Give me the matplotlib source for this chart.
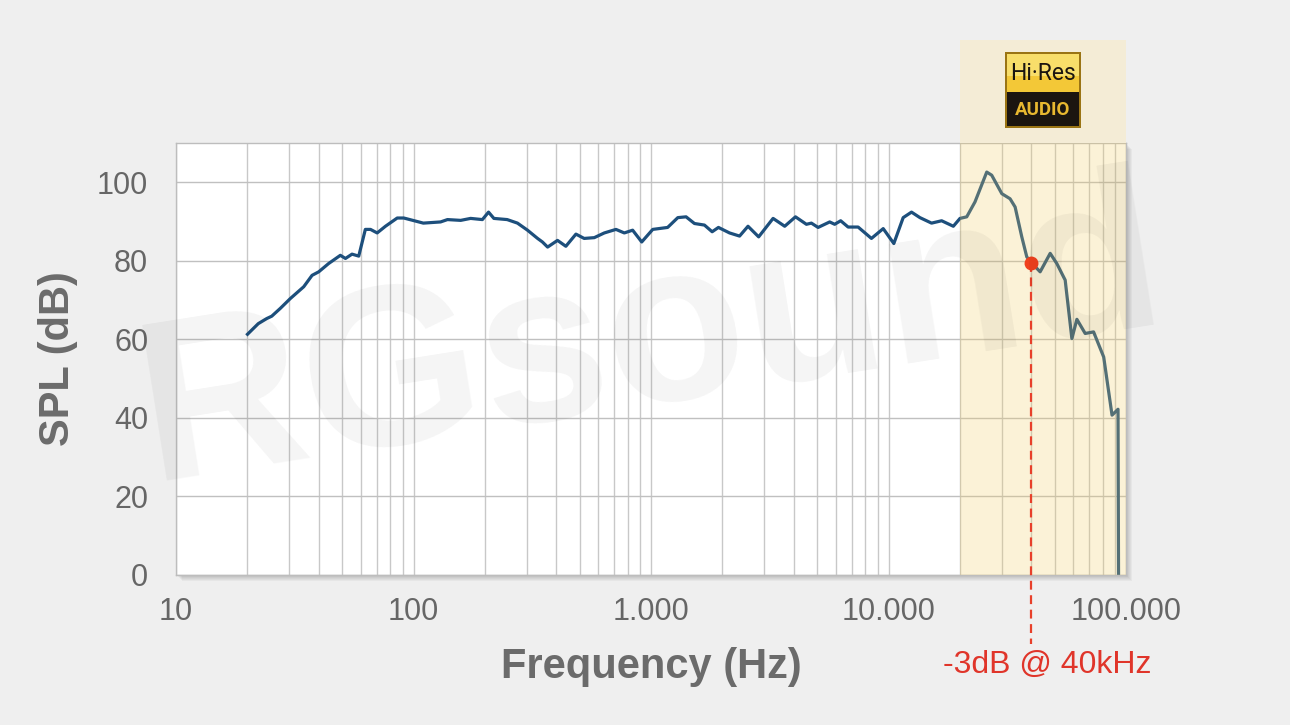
import matplotlib.pyplot as plt
from matplotlib.patches import Rectangle

# frequency response
freq_hz = [20, 22.2, 24.1, 25.3, 27.5, 30.3, 34.5, 37.4, 39.9, 43.9, 49.2, 51.7, 55.1,
           58.8, 62.7, 65.9, 70.3, 76.2, 85.4, 91, 110, 130, 139, 158, 174, 195, 207,
           218, 248, 274, 302, 333, 349, 367, 404, 438, 483, 523, 577, 636, 712, 772,
           837, 914, 1017, 1175, 1297, 1405, 1524, 1679, 1809, 1923, 2141, 2360, 2561,
           2840, 3266, 3656, 4058, 4512, 4735, 5053, 5654, 5934, 6290, 6760, 7448,
           8475, 9500, 10530, 11530, 12500, 13560, 15180, 16740, 18750, 20000, 21350,
           23130, 25920, 27200, 30000, 32500, 34130, 36410, 38220, 40000, 43500, 47950,
           51140, 55450, 59170, 62120, 67330, 73030, 80560, 87330, 92560, 93020]
spl_db = [61.3, 64.0, 65.3, 65.9, 67.9, 70.4, 73.4, 76.3, 77.2, 79.3, 81.4, 80.6, 81.7,
          81.2, 88.0, 88.0, 87.1, 88.8, 90.9, 90.9, 89.6, 89.9, 90.5, 90.3, 90.8, 90.5, 92.4,
          90.8, 90.5, 89.6, 87.8, 85.7, 84.8, 83.5, 85.2, 83.7, 86.8, 85.7, 85.9, 87.1, 88.0,
          87.1, 87.8, 84.8, 88.0, 88.5, 91.0, 91.2, 89.5, 89.1, 87.4, 88.5, 87.1, 86.3, 88.8,
          86.1, 90.8, 88.8, 91.2, 89.3, 89.6, 88.5, 89.9, 89.3, 90.2, 88.6, 88.6,
          85.7, 88.2, 84.4, 91.0, 92.4, 91.0, 89.6, 90.2, 88.8, 90.8, 91.2,
          95.0, 102.6, 101.8, 97.1, 95.8, 93.7, 86.1, 81.0, 79.5, 77.2, 81.9,
          79.3, 75.1, 60.2, 65.1, 61.5, 61.9, 55.5, 40.7, 42.2, 0.0]

x_ticks = [10, 100, 1000, 10000, 100000]
x_labels = ['10', '100', '1.000', '10.000', '100.000']
y_ticks = [0, 20, 40, 60, 80, 100]
hires_start = 20000
cutoff_freq = 40000
cutoff_db = 79.5
cutoff_label = '-3dB @ 40kHz'

W, H = 1290, 725
fig = plt.figure(figsize=(W / 100, H / 100), dpi=100, facecolor='#efefef')
plt.rcParams['font.family'] = ['Liberation Sans', 'DejaVu Sans']

ax_l, ax_b, ax_w, ax_h = 176 / W, 1 - 575 / H, 950 / W, 432 / H
ax = fig.add_axes([ax_l, ax_b, ax_w, ax_h])

# soft shadow at bottom/right of the plot area
for k in range(1, 7):
    fig.patches.append(Rectangle((ax_l + k / W, ax_b - k / H), ax_w, ax_h,
                                 transform=fig.transFigure, facecolor='#000000',
                                 alpha=0.035, edgecolor='none', zorder=-1))

ax.set_xscale('log')
ax.set_xlim(10, 100000)
ax.set_ylim(0, 110)
ax.set_facecolor('white')

ax.grid(True, which='both', axis='x', color='#c8c8c8', lw=1.0, zorder=1)
ax.grid(True, which='major', axis='y', color='#c0c0c0', lw=1.0, zorder=1)

ax.plot(freq_hz, spl_db, color='#1d4f7c', lw=2.3, zorder=2, solid_joinstyle='round')

# Hi-Res band: tinted over the curve inside the plot, lighter strip above it
ax.add_patch(Rectangle((hires_start, 0), 100000 - hires_start, 1,
                       transform=ax.get_xaxis_transform(), facecolor='#f2cf66',
                       alpha=0.26, edgecolor='none', zorder=3))
ax.add_patch(Rectangle((hires_start, 1), 100000 - hires_start, (575 - 40) / 432 - 1,
                       transform=ax.get_xaxis_transform(), facecolor='#f4ecd6',
                       edgecolor='none', clip_on=False, zorder=3))

# -3 dB marker
ax.plot([cutoff_freq, cutoff_freq], [cutoff_db, -17.5], color='#e8402a', lw=1.6,
        dashes=(4, 2.5), clip_on=False, zorder=4)
ax.plot(cutoff_freq, cutoff_db, 'o', color='#f0401e', ms=9, zorder=5, clip_on=False)
ax.text(cutoff_freq * 1.16, -22.8, cutoff_label, color='#e0352a', fontsize=23,
        ha='center', va='center', clip_on=False)

ax.set_xticks(x_ticks)
ax.set_xticklabels(x_labels)
ax.set_yticks(y_ticks)
ax.tick_params(which='both', length=0, labelsize=22, labelcolor='#666666')
ax.tick_params(axis='x', pad=16)
ax.tick_params(axis='y', pad=20)

for s in ax.spines.values():
    s.set_color('#bdbdbd')
    s.set_linewidth(1.0)

ax.set_xlabel('Frequency (Hz)', fontsize=30, fontweight='bold', color='#6b6b6b',
              labelpad=14)
ax.set_ylabel('SPL (dB)', fontsize=30, fontweight='bold', color='#6b6b6b',
              labelpad=14)

# Hi-Res Audio logo
lx, ly, lw_, lh = 1005 / W, 1 - 128 / H, 76 / W, 76 / H
fig.patches.append(Rectangle((lx, ly), lw_, lh, transform=fig.transFigure,
                             facecolor='#9a7414', edgecolor='none', zorder=6))
fig.patches.append(Rectangle((lx + 2 / W, ly + 36 / H), lw_ - 4 / W, lh - 38 / H,
                             transform=fig.transFigure, facecolor='#f3c837',
                             edgecolor='none', zorder=6))
fig.patches.append(Rectangle((lx + 2 / W, ly + 52 / H), lw_ - 4 / W, lh - 54 / H,
                             transform=fig.transFigure, facecolor='#f8de6a',
                             edgecolor='none', zorder=6))
fig.patches.append(Rectangle((lx + 2 / W, ly + 2 / H), lw_ - 4 / W, 34 / H,
                             transform=fig.transFigure, facecolor='#1b1510',
                             edgecolor='none', zorder=6))
fig.text(lx + lw_ / 2, ly + 55 / H, 'Hi·Res', fontsize=16.5, color='#1b1510',
         ha='center', va='center', family='Roboto', zorder=7)
fig.text(lx + lw_ / 2, ly + 18 / H, 'AUDIO', fontsize=13.5, color='#e8b830',
         ha='center', va='center', fontweight='bold', family='Roboto', zorder=7)

# faint watermark
fig.text(0.505, 0.53, 'RGsound', fontsize=165, fontweight='bold', color='#000000',
         alpha=0.045, rotation=9, ha='center', va='center', zorder=10)

fig.savefig('out.png', dpi=100, facecolor=fig.get_facecolor())
